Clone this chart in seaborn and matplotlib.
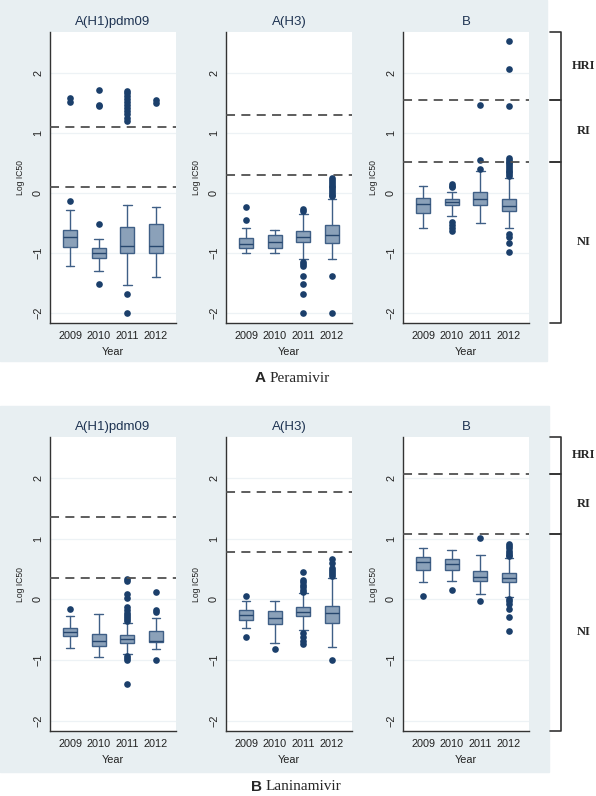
import matplotlib.pyplot as plt
import matplotlib as mpl
import matplotlib.transforms as mtransforms
import numpy as np
import pandas as pd
import seaborn as sns

years = ["2009", "2010", "2011", "2012"]
subtypes = ["A(H1)pdm09", "A(H3)", "B"]

# box stats per year: whislo, q1, median, q3, whishi  (log IC50)
per_h1_stats = [[-1.22, -0.90, -0.74, -0.62, -0.28], [-1.31, -1.08, -1.00, -0.92, -0.77],
                [-1.53, -1.00, -0.89, -0.57, -0.21], [-1.41, -1.00, -0.89, -0.52, -0.23]]
per_h3_stats = [[-1.01, -0.92, -0.85, -0.75, -0.59], [-1.01, -0.92, -0.82, -0.70, -0.62],
                [-1.10, -0.82, -0.74, -0.64, -0.36], [-1.10, -0.83, -0.70, -0.53, -0.10]]
per_b_stats = [[-0.59, -0.33, -0.18, -0.09, 0.12], [-0.38, -0.21, -0.16, -0.11, 0.01],
               [-0.50, -0.21, -0.10, 0.02, 0.37], [-0.58, -0.31, -0.22, -0.10, 0.25]]
lan_h1_stats = [[-0.80, -0.61, -0.53, -0.47, -0.27], [-0.95, -0.76, -0.69, -0.57, -0.24],
                [-0.90, -0.72, -0.65, -0.59, -0.39], [-0.82, -0.70, -0.68, -0.52, -0.31]]
lan_h3_stats = [[-0.47, -0.34, -0.25, -0.18, -0.03], [-0.72, -0.40, -0.30, -0.19, -0.03],
                [-0.51, -0.28, -0.20, -0.12, 0.11], [-0.78, -0.39, -0.22, -0.10, 0.36]]
lan_b_stats = [[0.29, 0.48, 0.61, 0.70, 0.85], [0.31, 0.48, 0.58, 0.67, 0.82],
               [0.09, 0.30, 0.37, 0.47, 0.74], [0.04, 0.29, 0.35, 0.43, 0.69]]

# outliers per year
per_h1_out = [[1.58, 1.52, -0.14], [1.72, 1.47, 1.45, -0.52, -1.52],
              [1.70, 1.66, 1.62, 1.57, 1.52, 1.47, 1.42, 1.37, 1.31, 1.25, 1.20, -1.69, -2.00],
              [1.55, 1.49]]
per_h3_out = [[-0.23, -0.45], [],
              [-0.27, -0.30, -1.15, -1.19, -1.22, -1.39, -1.52, -1.69, -2.00],
              [0.24, 0.21, 0.18, 0.15, 0.12, 0.09, 0.06, 0.03, 0.00, -0.03, -0.06, -1.39, -2.00]]
per_b_out = [[], [0.15, 0.12, 0.09, -0.48, -0.53, -0.58, -0.63],
             [1.46, 0.55, 0.40],
             [2.53, 2.06, 1.45, 0.58, 0.55, 0.52, 0.49, 0.46, 0.43, 0.40, 0.37, 0.34, 0.31, 0.28,
              -0.69, -0.74, -0.83, -0.99]]
lan_h1_out = [[-0.16], [],
              [0.34, 0.30, 0.09, 0.02, -0.13, -0.18, -0.22, -0.25, -0.29, -0.33, -0.36,
               -0.94, -0.97, -1.00, -1.39],
              [0.12, -0.17, -0.21, -1.00]]
lan_h3_out = [[0.06, -0.62], [-0.82],
              [0.45, 0.32, 0.28, 0.24, 0.20, 0.16, 0.13, -0.56, -0.62, -0.68, -0.74],
              [0.67, 0.60, 0.52, 0.48, 0.45, 0.42, 0.39, -1.00]]
lan_b_out = [[0.06], [0.15], [1.02, -0.03],
             [0.91, 0.88, 0.85, 0.80, 0.77, 0.74, 0.71, 0.01, -0.03, -0.07, -0.15, -0.29, -0.52]]

# NI/RI and RI/HRI cut-offs
per_cuts = [(0.10, 1.10), (0.30, 1.30), (0.52, 1.55)]
lan_cuts = [(0.36, 1.36), (0.78, 1.78), (1.08, 2.07)]

sns.set_style("white")
plt.rcParams['font.family'] = ['Liberation Sans', 'DejaVu Sans']

box_face = "#8ba1b9"
box_edge = "#3f5f86"
dot_col = "#1b3f6b"
bg_col = "#e8eff2"
ylo, yhi = -2.17, 2.68

fig = plt.figure(figsize=(5.96, 7.96), dpi=100)
W, H = 596.0, 796.0

# panel backgrounds
fig.add_artist(mpl.patches.Rectangle((0, 1 - 361 / H), 547 / W, 361 / H,
                                     transform=fig.transFigure, color=bg_col, zorder=0))
fig.add_artist(mpl.patches.Rectangle((0, 1 - 772 / H), 549 / W, (772 - 406) / H,
                                     transform=fig.transFigure, color=bg_col, zorder=0))

xs = [50, 226, 403]
panels = [
    (32, 323, [per_h1_stats, per_h3_stats, per_b_stats], [per_h1_out, per_h3_out, per_b_out], per_cuts),
    (437, 731, [lan_h1_stats, lan_h3_stats, lan_b_stats], [lan_h1_out, lan_h3_out, lan_b_out], lan_cuts),
]

for top, bot, stats_all, out_all, cuts in panels:
    axes = []
    for j in range(3):
        ax = fig.add_axes([xs[j] / W, 1 - bot / H, 126 / W, (bot - top) / H])
        ax.set_facecolor("white")
        for t in [-2, -1, 0, 1, 2]:
            ax.axhline(t, color="#edf2f5", lw=0.9, zorder=0)
        bstats = [dict(whislo=s[0], q1=s[1], med=s[2], q3=s[3], whishi=s[4], fliers=[])
                  for s in stats_all[j]]
        ax.bxp(bstats, positions=range(4), widths=0.5, capwidths=0.3, patch_artist=True,
               showfliers=False,
               boxprops=dict(facecolor=box_face, edgecolor=box_edge, lw=1.0),
               whiskerprops=dict(color=box_edge, lw=1.0),
               capprops=dict(color=box_edge, lw=1.0),
               medianprops=dict(color="#27476e", lw=1.0))
        rows = [(y, v) for y, vals in zip(years, out_all[j]) for v in vals]
        df = pd.DataFrame(rows, columns=["Year", "logic50"])
        sns.stripplot(data=df, x="Year", y="logic50", order=years, jitter=False,
                      color=dot_col, size=4.8, linewidth=0, ax=ax, zorder=3)
        for c in cuts[j]:
            ax.axhline(c, color="#505050", lw=1.3, ls=(0, (5, 3.5)), zorder=4, clip_on=False)
        ax.set_xlim(-0.7, 3.7)
        ax.set_ylim(ylo, yhi)
        ax.set_xticks(range(4))
        ax.set_xticklabels(years, fontsize=7.8, color="#222222")
        ax.set_yticks([-2, -1, 0, 1, 2])
        ax.set_yticklabels(["\u22122", "\u22121", "0", "1", "2"], fontsize=7.8,
                           rotation=90, va="center", color="#222222")
        ax.tick_params(axis="both", length=3, width=0.8, color="#333333", pad=2)
        ax.tick_params(axis="x", length=0, pad=6)
        for side in ["top", "right"]:
            ax.spines[side].set_visible(False)
        for side in ["left", "bottom"]:
            ax.spines[side].set_color("#333333")
            ax.spines[side].set_linewidth(1.0)
        ax.set_xlabel("Year", fontsize=7.8, color="#222222", labelpad=4)
        ax.set_ylabel("Log IC50", fontsize=6.2, color="#222222", labelpad=6)
        ax.set_title(subtypes[j], fontsize=9.5, color="#1e3352", pad=5)
        axes.append(ax)

    # resistance brackets on the right
    ax3 = axes[2]
    tr = mtransforms.blended_transform_factory(fig.transFigure, ax3.transData)
    lo_c, hi_c = cuts[2]
    spans = [(hi_c, yhi, "HRI"), (lo_c, hi_c, "RI"), (ylo, lo_c, "NI")]
    x0, x1, xt = 550 / W, 561 / W, 584 / W
    for a, b, lab in spans:
        fig.add_artist(mpl.lines.Line2D([x0, x1, x1, x0], [b, b, a, a], transform=tr,
                                        color="#333333", lw=1.2))
        fig.text(xt, (a + b) / 2, lab, transform=tr, ha="center", va="center",
                 fontsize=9, fontweight="bold", family="Liberation Serif")

# panel captions
fig.text(266 / W, 1 - 378 / H, "A", ha="right", va="center", fontsize=11,
         fontweight="bold", family="Liberation Sans")
fig.text(270 / W, 1 - 378 / H, "Peramivir", ha="left", va="center", fontsize=11,
         family="Liberation Serif")
fig.text(262 / W, 1 - 787 / H, "B", ha="right", va="center", fontsize=11,
         fontweight="bold", family="Liberation Sans")
fig.text(266 / W, 1 - 787 / H, "Laninamivir", ha="left", va="center", fontsize=11,
         family="Liberation Serif")

plt.savefig("out.png", dpi=100, facecolor="white")
